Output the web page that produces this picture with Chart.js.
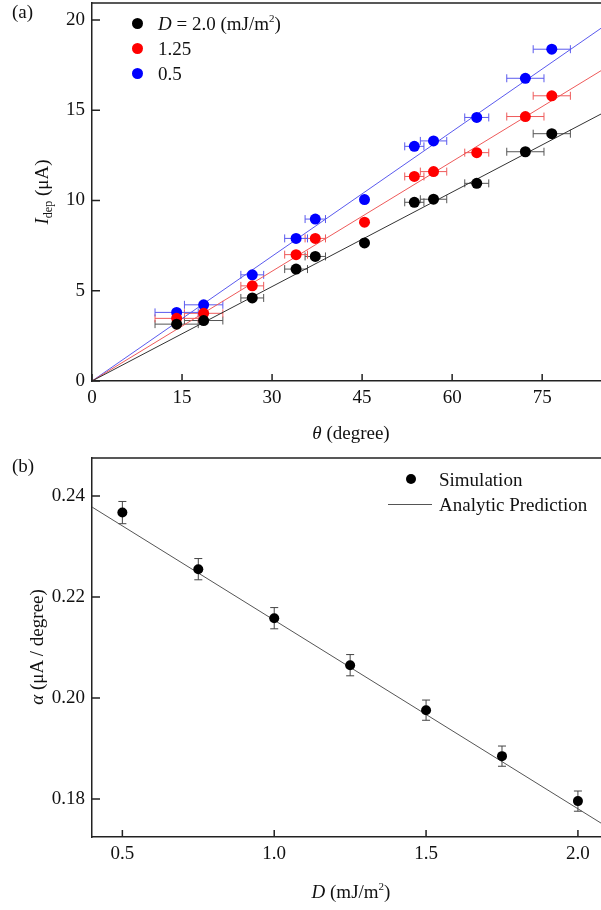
<!DOCTYPE html>
<html lang="en">
<head>
    <meta charset="UTF-8">
    <title>Depinning current and alpha vs D</title>
    <style>
        body {
            margin: 0;
            padding: 0;
            background: #fff;
        }
        #page {
            position: relative;
            width: 601px;
            height: 910px;
            overflow: hidden;
            font-family: 'Liberation Serif', 'Times New Roman', serif;
            color: #111;
        }
        .box {
            position: absolute;
            left: 0;
            width: 601px;
        }
        .txt {
            position: absolute;
            font-size: 19px;
            line-height: 19px;
            white-space: nowrap;
        }
        .rot {
            transform: translate(-50%, -50%) rotate(-90deg);
        }
        .dot {
            position: absolute;
            width: 11px;
            height: 11px;
            border-radius: 50%;
        }
        sup { font-size: 11px; line-height: 0; vertical-align: baseline; position: relative; top: -8px; }
        sub { font-size: 12px; line-height: 0; vertical-align: baseline; position: relative; top: 4px; }
    </style>
    <script src="https://cdn.jsdelivr.net/npm/chart.js"></script>
</head>
<body>
<div id="page">
    <div class="box" style="top:0;height:445px"><canvas id="chartA"></canvas></div>
    <div class="box" style="top:445px;height:465px"><canvas id="chartB"></canvas></div>

    <!-- panel (a) text -->
    <div class="txt" style="left:12px;top:2px">(a)</div>
    <div class="dot" style="left:132px;top:18px;background:#000"></div>
    <div class="txt" style="left:158px;top:14px"><i>D</i> = 2.0 (mJ/m<sup>2</sup>)</div>
    <div class="dot" style="left:132px;top:43px;background:#f00"></div>
    <div class="txt" style="left:158px;top:39px">1.25</div>
    <div class="dot" style="left:132px;top:68px;background:#00f"></div>
    <div class="txt" style="left:158px;top:64px">0.5</div>
    <div class="txt" style="left:351px;top:432px;transform:translate(-50%,-50%)"><i>θ</i> (degree)</div>
    <div class="txt rot" style="left:41px;top:192px"><i>I</i><sub>dep</sub> (μA)</div>

    <!-- panel (b) text -->
    <div class="txt" style="left:12px;top:456px">(b)</div>
    <div class="dot" style="left:406px;top:474px;background:#000;width:10px;height:10px"></div>
    <div class="txt" style="left:439px;top:470px">Simulation</div>
    <div style="position:absolute;left:388px;top:504px;width:44px;height:1px;background:#555"></div>
    <div class="txt" style="left:439px;top:495px">Analytic Prediction</div>
    <div class="txt" style="left:351px;top:891px;transform:translate(-50%,-50%)"><i>D</i> (mJ/m<sup>2</sup>)</div>
    <div class="txt rot" style="left:36px;top:647px"><i>α</i> (μA / degree)</div>
</div>
<script>
    // panel (a): depinning current vs angle
    var theta = [14.1, 18.6, 26.7, 34.0, 37.2, 45.4, 53.7, 56.9, 64.1, 72.2, 76.6];
    var thetaErr = [3.6, 3.2, 1.9, 1.9, 1.7, 0.5, 1.6, 2.2, 2.0, 3.1, 3.1];
    var iD20 = [3.15, 3.35, 4.6, 6.2, 6.9, 7.65, 9.9, 10.07, 10.95, 12.7, 13.7];
    var iD125 = [3.47, 3.75, 5.27, 7.0, 7.9, 8.8, 11.33, 11.6, 12.65, 14.65, 15.8];
    var iD05 = [3.8, 4.22, 5.88, 7.9, 8.97, 10.05, 13.0, 13.3, 14.6, 16.77, 18.38];
    // fitted lines through origin, end points read at right edge
    var fitTheta = [0, 84.8];
    var fitD20 = [0, 14.79];
    var fitD125 = [0, 17.19];
    var fitD05 = [0, 19.54];
    var ticksA_x = [0, 15, 30, 45, 60, 75];
    var ticksA_y = [0, 5, 10, 15, 20];

    // panel (b): alpha vs D
    var simD = [0.5, 0.75, 1.0, 1.25, 1.5, 1.75, 2.0];
    var simAlpha = [0.2367, 0.2255, 0.2158, 0.2065, 0.1976, 0.1885, 0.1796];
    var simErr = [0.0022, 0.0021, 0.0021, 0.0021, 0.002, 0.002, 0.002];
    var predD = [0.4, 2.076];
    var predAlpha = [0.2378, 0.17525];
    var ticksB_x = [0.5, 1.0, 1.5, 2.0];
    var ticksB_y = [0.18, 0.20, 0.22, 0.24];

    var serif = "'Liberation Serif', 'Times New Roman', serif";

    function pts(xs, ys) {
        return xs.map(function (x, i) { return { x: x, y: ys[i] }; });
    }

    // error bars drawn under the markers
    var errorBars = {
        id: 'errorBars',
        beforeDatasetsDraw: function (chart) {
            var ctx = chart.ctx, sx = chart.scales.x, sy = chart.scales.y;
            chart.data.datasets.forEach(function (ds) {
                if (!ds.errX && !ds.errY) return;
                ctx.save();
                ctx.strokeStyle = ds.errColor;
                ctx.lineWidth = 1;
                ctx.beginPath();
                ds.data.forEach(function (p, j) {
                    var px = sx.getPixelForValue(p.x), py = sy.getPixelForValue(p.y);
                    if (ds.errX) {
                        var x0 = sx.getPixelForValue(p.x - ds.errX[j]);
                        var x1 = sx.getPixelForValue(p.x + ds.errX[j]);
                        ctx.moveTo(x0, py); ctx.lineTo(x1, py);
                        ctx.moveTo(x0, py - 4); ctx.lineTo(x0, py + 4);
                        ctx.moveTo(x1, py - 4); ctx.lineTo(x1, py + 4);
                    }
                    if (ds.errY) {
                        var y0 = sy.getPixelForValue(p.y - ds.errY[j]);
                        var y1 = sy.getPixelForValue(p.y + ds.errY[j]);
                        ctx.moveTo(px, y0); ctx.lineTo(px, y1);
                        ctx.moveTo(px - 4, y0); ctx.lineTo(px + 4, y0);
                        ctx.moveTo(px - 4, y1); ctx.lineTo(px + 4, y1);
                    }
                });
                ctx.stroke();
                ctx.restore();
            });
        }
    };

    // top frame line and inward tick marks
    var frame = {
        id: 'frame',
        afterDraw: function (chart) {
            var ctx = chart.ctx, a = chart.chartArea, sx = chart.scales.x, sy = chart.scales.y;
            ctx.save();
            ctx.strokeStyle = '#222';
            ctx.lineWidth = 1.5;
            ctx.beginPath();
            ctx.moveTo(a.left, a.top); ctx.lineTo(a.right, a.top);
            sx.ticks.forEach(function (t) {
                var x = sx.getPixelForValue(t.value);
                ctx.moveTo(x, a.bottom); ctx.lineTo(x, a.bottom - 7);
            });
            sy.ticks.forEach(function (t) {
                var y = sy.getPixelForValue(t.value);
                ctx.moveTo(a.left, y); ctx.lineTo(a.left + 8, y);
            });
            ctx.stroke();
            ctx.restore();
        }
    };

    function axis(min, max, tickVals, digits, fitSize, isX) {
        return {
            type: 'linear',
            min: min,
            max: max,
            afterFit: function (s) {
                if (isX) s.height = fitSize; else s.width = fitSize;
                // no extra room for edge labels, the frame runs to the canvas edge
                s.paddingTop = 0; s.paddingBottom = 0;
                s.paddingLeft = 0; s.paddingRight = 0;
            },
            afterBuildTicks: function (s) {
                s.ticks = tickVals.map(function (v) { return { value: v }; });
            },
            border: { display: true, color: '#222', width: 1.5 },
            grid: { display: false, drawTicks: false },
            ticks: {
                padding: isX ? 6 : 7,
                color: '#111',
                font: { family: serif, size: 19 },
                callback: function (v) { return v.toFixed(digits); }
            }
        };
    }

    var commonOpts = {
        responsive: true,
        maintainAspectRatio: false,
        animation: false,
        plugins: { legend: { display: false }, tooltip: { enabled: false } }
    };

    // Panel (a)
    new Chart(document.getElementById('chartA'), {
        type: 'scatter',
        data: {
            datasets: [
                { data: pts(theta, iD20), pointRadius: 5.5, backgroundColor: '#000', borderWidth: 0, errX: thetaErr, errColor: '#555' },
                { data: pts(theta, iD125), pointRadius: 5.5, backgroundColor: '#f00', borderWidth: 0, errX: thetaErr, errColor: '#ee5a5a' },
                { data: pts(theta, iD05), pointRadius: 5.5, backgroundColor: '#00f', borderWidth: 0, errX: thetaErr, errColor: '#5a5aee' },
                { data: pts(fitTheta, fitD20), showLine: true, pointRadius: 0, borderColor: '#333', borderWidth: 1 },
                { data: pts(fitTheta, fitD125), showLine: true, pointRadius: 0, borderColor: '#ee5a5a', borderWidth: 1 },
                { data: pts(fitTheta, fitD05), showLine: true, pointRadius: 0, borderColor: '#5a5aee', borderWidth: 1 }
            ]
        },
        options: Object.assign({}, commonOpts, {
            layout: { autoPadding: false, padding: { top: 3, right: 0, bottom: 0, left: 0 } },
            scales: {
                x: axis(0, 84.8, ticksA_x, 0, 64, true),
                y: axis(0, 20.94, ticksA_y, 0, 92, false)
            }
        }),
        plugins: [errorBars, frame]
    });

    // Panel (b)
    new Chart(document.getElementById('chartB'), {
        type: 'scatter',
        data: {
            datasets: [
                { data: pts(simD, simAlpha), pointRadius: 5, backgroundColor: '#000', borderWidth: 0, errY: simErr, errColor: '#444' },
                { data: pts(predD, predAlpha), showLine: true, pointRadius: 0, borderColor: '#555', borderWidth: 1 }
            ]
        },
        options: Object.assign({}, commonOpts, {
            layout: { autoPadding: false, padding: { top: 13, right: 0, bottom: 0, left: 0 } },
            scales: {
                x: axis(0.4, 2.076, ticksB_x, 1, 73, true),
                y: axis(0.1725, 0.2475, ticksB_y, 2, 92, false)
            }
        }),
        plugins: [errorBars, frame]
    });
</script>
</body>
</html>
